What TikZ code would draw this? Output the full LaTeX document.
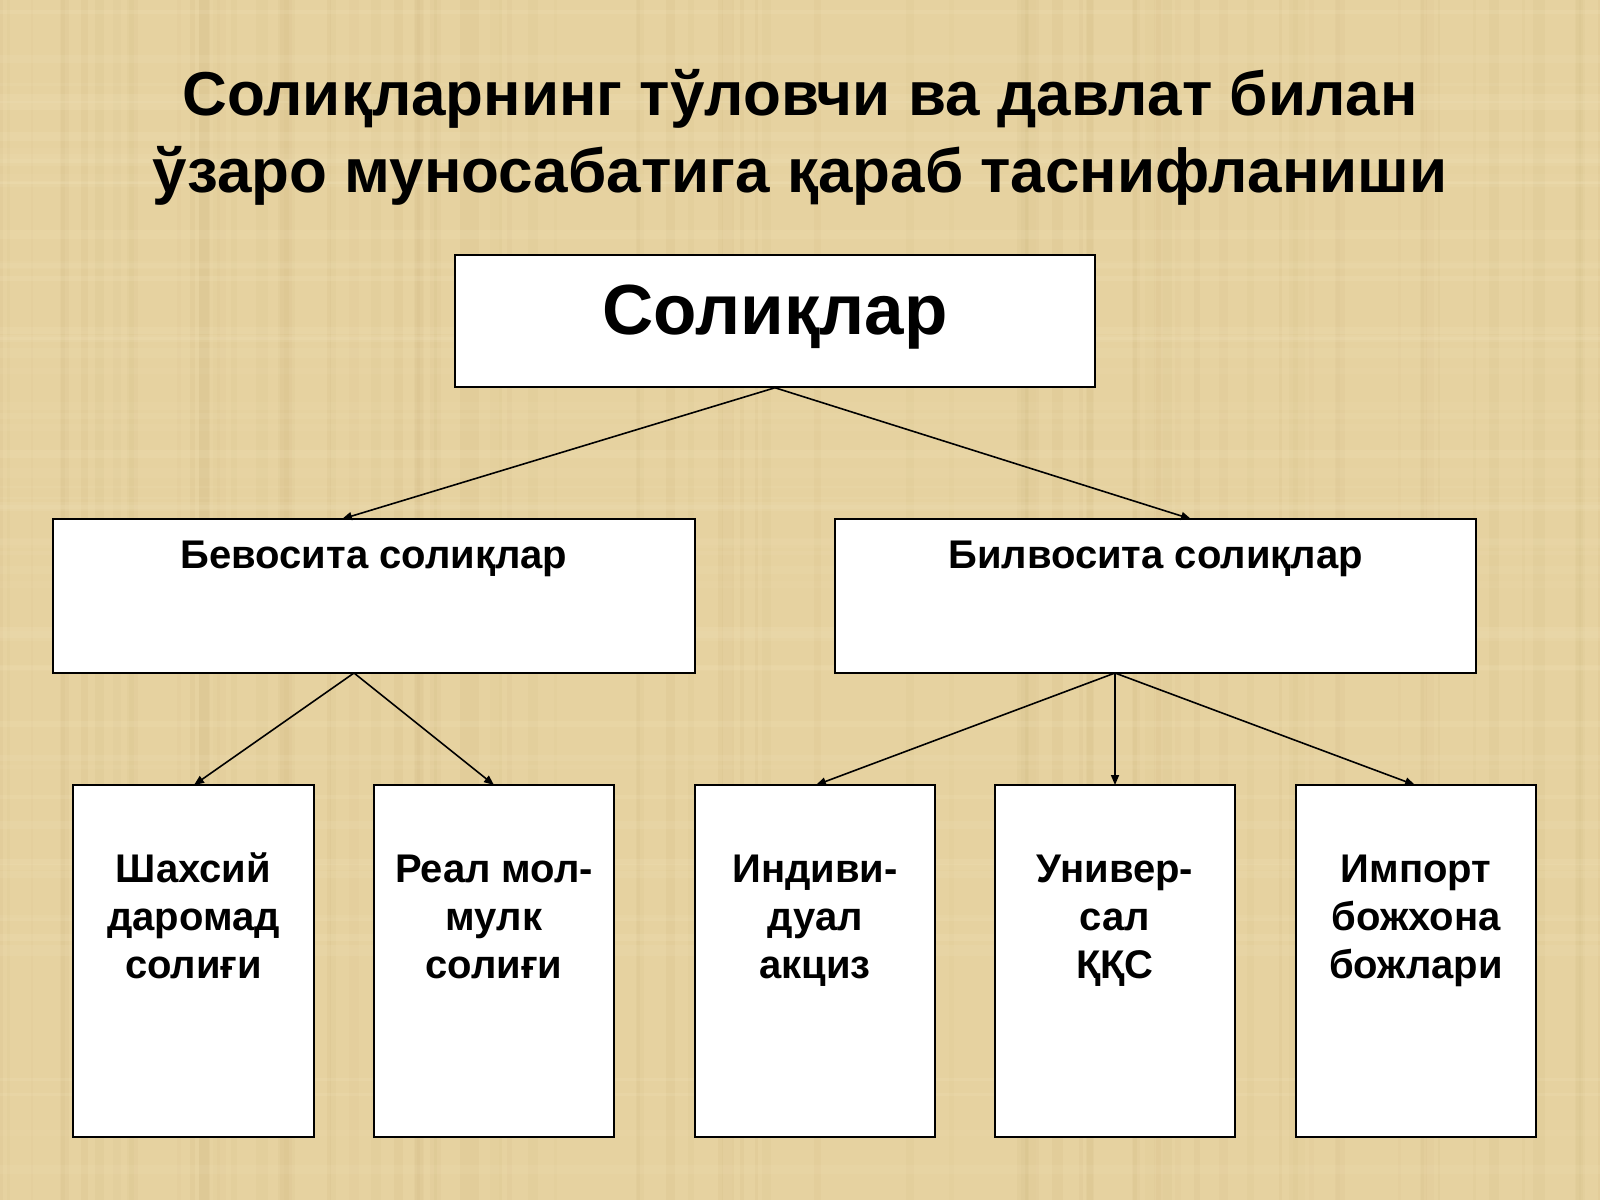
\documentclass[tikz,border=0pt]{standalone}
\usepackage{fontspec}
\setmainfont{Liberation Sans}
\usetikzlibrary{arrows.meta}
\definecolor{parch}{RGB}{230,210,160}
\definecolor{parchdark}{RGB}{205,180,125}
\definecolor{parchlight}{RGB}{242,228,188}
\tikzset{
  box/.style={draw=black, line width=1.5pt, fill=white, inner sep=0pt},
  conn/.style={draw=black, line width=1.6pt, -{Triangle[length=10pt,width=8pt]}},
  ttl/.style={font=\bfseries\fontsize{62}{76}\selectfont, anchor=base, inner sep=0pt},
  bigtxt/.style={font=\bfseries\fontsize{71}{80}\selectfont, anchor=base, inner sep=0pt},
  midtxt/.style={font=\bfseries\fontsize{40}{46}\selectfont, anchor=base, inner sep=0pt},
  smalltxt/.style={font=\bfseries\fontsize{40}{48}\selectfont, anchor=base, inner sep=0pt, align=center},
}
\begin{document}
\begin{tikzpicture}[x=1pt,y=-1pt]
  \fill[parch] (0,0) rectangle (1600,1200);
  \useasboundingbox (0,0) rectangle (1600,1200);
  % subtle parchment texture
  \pgfmathsetseed{7}
  \foreach \i in {1,...,90}{
    \pgfmathsetmacro{\xx}{rnd*1600}
    \pgfmathsetmacro{\ww}{2+rnd*10}
    \pgfmathsetmacro{\oo}{0.06+rnd*0.10}
    \fill[parchdark, opacity=\oo] (\xx,0) rectangle ++(\ww,1200);
  }
  \foreach \i in {1,...,60}{
    \pgfmathsetmacro{\yy}{rnd*1200}
    \pgfmathsetmacro{\hh}{2+rnd*8}
    \pgfmathsetmacro{\oo}{0.08+rnd*0.12}
    \fill[parchlight, opacity=\oo] (0,\yy) rectangle ++(1600,\hh);
  }

  % title
  \node[ttl] (t1) at (800,115) {Солиқларнинг тўловчи ва давлат билан};
  \node[ttl] (t2) at (800,192) {ўзаро муносабатига қараб таснифланиши};

  % boxes
  \node[box, minimum width=640pt, minimum height=132pt] (top) at (775,321) {};
  \node[bigtxt] (topt) at (775,334) {Солиқлар};

  \node[box, minimum width=642pt, minimum height=154pt] (bl) at (374,596) {};
  \node[midtxt] (blt) at (374,568) {Бевосита солиқлар};
  \node[box, minimum width=641pt, minimum height=154pt] (br) at (1155.5,596) {};
  \node[midtxt] (brt) at (1155.5,568) {Билвосита солиқлар};

  \node[box, minimum width=241pt, minimum height=352pt] (b1) at (193.5,961) {};
  \node[box, minimum width=240pt, minimum height=352pt] (b2) at (494,961) {};
  \node[box, minimum width=240pt, minimum height=352pt] (b3) at (815,961) {};
  \node[box, minimum width=240pt, minimum height=352pt] (b4) at (1115,961) {};
  \node[box, minimum width=240pt, minimum height=352pt] (b5) at (1416,961) {};

  % anchor=base of a multi-line node is the baseline of its last line
  \node[smalltxt] (b1t) at (193.5,978) {Шахсий\\даромад\\солиғи};
  \node[smalltxt] (b2t) at (494,978) {Реал мол-\\мулк\\солиғи};
  \node[smalltxt] (b3t) at (815,978) {Индиви-\\дуал\\акциз};
  \node[smalltxt] (b4t) at (1115,978) {Универ-\\сал\\ҚҚС};
  \node[smalltxt] (b5t) at (1416,978) {Импорт\\божхона\\божлари};

  % connector endpoints
  \coordinate (blin) at (342,519);
  \coordinate (brin) at (1191,519);
  \coordinate (blout) at (354,673);
  \coordinate (brout) at (1115,673);
  \coordinate (b1in) at (194,785);
  \coordinate (b2in) at (494,785);
  \coordinate (b3in) at (816,785);
  \coordinate (b4in) at (1115,785);
  \coordinate (b5in) at (1415,785);

  \draw[conn] (top.south) -- (blin);
  \draw[conn] (top.south) -- (brin);
  \draw[conn] (blout) -- (b1in);
  \draw[conn] (blout) -- (b2in);
  \draw[conn] (brout) -- (b3in);
  \draw[conn] (brout) -- (b4in);
  \draw[conn] (brout) -- (b5in);
\end{tikzpicture}
\end{document}
